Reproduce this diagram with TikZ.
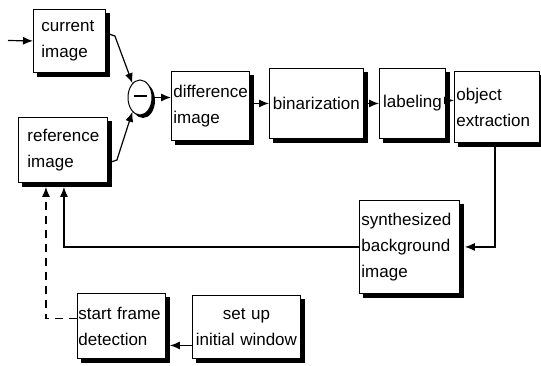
\documentclass[tikz,border=0pt]{standalone}
\usepackage{fontspec}
\setmainfont{Liberation Sans}
\usetikzlibrary{shapes.geometric,arrows.meta,calc}
\begin{document}
\begin{tikzpicture}[x=1pt,y=-1pt,
  box/.style={draw, line width=0.9pt, fill=white, inner ysep=0pt, align=left, anchor=north west,
    font=\fontsize{17}{26}\selectfont},
  shadowfill/.style={fill=black},
  arr/.style={line width=1.2pt, -{Latex[length=10pt,width=8pt]}}]
\useasboundingbox (0,0) rectangle (541,365);

\fill[shadowfill] (143,100.5) ellipse [x radius=12, y radius=17.5];
\node[ellipse, draw, line width=1pt, fill=white, minimum width=24pt, minimum height=35pt, inner sep=0pt] (ell) at (140,97.5) {\rule[3pt]{13pt}{1.6pt}};

\node[box, text width=56pt, inner xsep=8pt, minimum height=63pt] (cur) at (33,9) {current\\image};
\node[box, text width=71pt, inner xsep=9pt, minimum height=65pt] (ref) at (18,117) {reference\\image};
\node[box, text width=74pt, inner xsep=2pt, minimum height=69pt] (diff) at (171,71) {difference\\image};
\node[box, text width=90pt, inner xsep=2pt, minimum height=70pt, align=center] (bin) at (269,68) {binarization};
\node[box, text width=62pt, inner xsep=2pt, minimum height=70pt, align=center] (lab) at (379,68) {labeling};
\node[box, text width=81pt, inner xsep=2pt, minimum height=71pt] (obj) at (454,71) {object\\extraction};
\node[box, text width=96pt, inner xsep=2pt, minimum height=93pt] (synth) at (359,200) {synthesized\\background\\image};
\node[box, text width=86pt, inner xsep=1pt, minimum height=65pt] (start) at (77,293) {start frame\\detection};
\node[box, text width=104pt, inner xsep=2pt, minimum height=63pt, align=center] (setup) at (192,295) {set up\\initial window};

\foreach \nd in {cur,ref,diff,bin,lab,obj,synth,start,setup}{
  \fill[shadowfill] ($(\nd.north east)+(0.45,4)$) rectangle ($(\nd.south east)+(4,4)$);
  \fill[shadowfill] ($(\nd.south west)+(4,0.45)$) rectangle ($(\nd.south east)+(4,4)$);
}

\coordinate (in) at (8,40.5);
\draw[arr] (in) -- (cur.west);
\draw[arr] ($(cur.north east)+(0,24)$) -- ++(9,3) -- (ell.118);
\draw[arr] ($(ref.north east)+(0,46)$) -- ++(9,-3) -- (ell.242);
\draw[arr] (ell.east) -- (ell.east -| diff.west);
\draw[arr] (diff.east |- bin.west) -- (bin.west);
\draw[arr] (bin.east) -- (lab.west);
\path ($(lab.east)+(0,-3)$) coordinate (lo);
\draw[arr] (lo) -- (lo -| obj.west);
\draw[arr] ($(obj.south)+(-2,0)$) |- ($(synth.east)+(5,0)$);
\draw[arr] (synth.west) -| ($(ref.south)+(1,4)$);
\draw[arr, dash pattern=on 8pt off 6pt] ($(start.west)+(0,-7.5)$) -| ($(ref.south)+(-17,4)$);
\path ($(setup.west)+(0,18.5)$) coordinate (sa);
\draw[arr] (sa) -- ($(start.east |- sa)+(4,0)$);
\end{tikzpicture}
\end{document}
